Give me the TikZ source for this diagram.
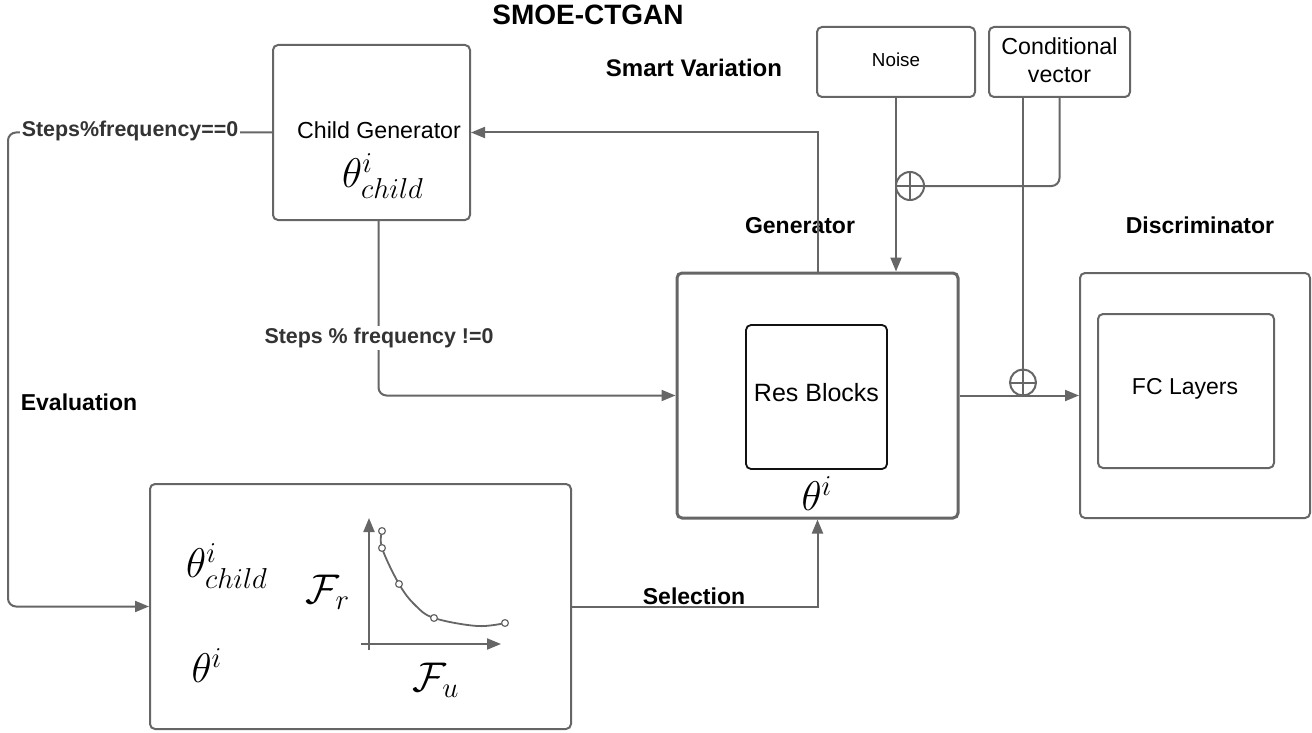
\documentclass[tikz,border=0pt]{standalone}
\usepackage{fontspec}
\setmainfont{Liberation Sans}
\usetikzlibrary{arrows.meta,calc}
\definecolor{ln}{HTML}{666666}
\definecolor{lbl}{HTML}{333333}
\definecolor{blk}{HTML}{111111}
\begin{document}
\begin{tikzpicture}[x=0.5pt,y=-0.5pt,
  box/.style={draw=ln, line width=1pt, rounded corners=2.5pt, inner sep=0pt},
  conn/.style={draw=ln, line width=1pt},
  arr/.style={conn, -{Triangle[length=7pt,width=5.5pt]}},
  boldlbl/.style={font=\fontsize{11.5}{13}\selectfont\bfseries, inner sep=1pt},
  steplbl/.style={font=\fontsize{10.7}{12}\selectfont\bfseries, text=lbl, fill=white, inner sep=1pt},
  txt/.style={font=\fontsize{11.6}{14}\selectfont, inner sep=0pt},
  bigmath/.style={font=\fontsize{22}{24}\selectfont, inner sep=0pt},
  oplus/.style={draw=ln, line width=1pt, circle, inner sep=0pt, fill=white,
    path picture={\draw[ln, line width=1pt] (path picture bounding box.north) -- (path picture bounding box.south)
      (path picture bounding box.west) -- (path picture bounding box.east);}},
  dot/.style={draw=ln, fill=white, circle, line width=0.6pt, inner sep=0pt, minimum size=3.4pt}
]
\useasboundingbox (0,0) rectangle (1312,733);

% title labels
\node[boldlbl, font=\fontsize{14}{16}\selectfont\bfseries] (title) at (588,15) {SMOE-CTGAN};
\node[boldlbl, font=\fontsize{12}{14}\selectfont\bfseries] (smart) at (694,68) {Smart Variation};
\node[boldlbl] (genlbl) at (800,226) {Generator};
\node[boldlbl] (disclbl) at (1200,225) {Discriminator};
\node[boldlbl] (evallbl) at (79,402) {Evaluation};

% boxes
\node[box, minimum width=98.5pt, minimum height=87.5pt] (cg) at (371.5,132.5) {};
\node[txt] (cgtext) at (379,130) {Child Generator};
\node[bigmath] (cgtheta) at (383,176) {$\theta^{i}_{child}$};

\node[box, minimum width=79pt, minimum height=35pt] (noise) at (896,62) {};
\node[txt, font=\fontsize{9.4}{11}\selectfont] (noisetext) at (896,60) {Noise};

\node[box, minimum width=70.5pt, minimum height=35pt] (cv) at (1059.5,62) {};
\node[txt, align=center] (cvtext) at (1059.5,60) {Conditional\\vector};

\node[box, line width=1.5pt, minimum width=140.5pt, minimum height=122.5pt] (gen) at (817.5,395.5) {};
\node[draw=blk, line width=0.9pt, rounded corners=2.5pt, minimum width=70.5pt, minimum height=72pt, inner sep=0pt] (res) at (816.5,397) {};
\node[txt, font=\fontsize{12.5}{14}\selectfont] (restext) at (816.5,393) {Res Blocks};
\node[bigmath] (gentheta) at (817,494) {$\theta^{i}$};

\node[box, minimum width=115pt, minimum height=122.5pt] (disc) at (1195,395.5) {};
\node[box, minimum width=88pt, minimum height=77pt] (fc) at (1186,391) {};
\node[txt, font=\fontsize{11.5}{14}\selectfont] (fctext) at (1185,389) {FC Layers};

\node[box, minimum width=210.5pt, minimum height=122.5pt] (eval) at (360.5,606.5) {};
\node[bigmath] (evtheta1) at (227,566) {$\theta^{i}_{child}$};
\node[bigmath] (evtheta2) at (207,666) {$\theta^{i}$};
\node[bigmath] (fr) at (328,592) {$\mathcal{F}_r$};
\node[bigmath] (fu) at (436,680) {$\mathcal{F}_u$};

% plot
\coordinate (yb) at (369,650);
\coordinate (yt) at (369,518);
\coordinate (xl) at (361,644);
\coordinate (xr) at (501,644);
\draw[arr] (yb) -- (yt);
\draw[arr] (xl) -- (xr);
\draw[ln, line width=0.9pt] plot[smooth, tension=0.6] coordinates {(382,531) (382,548) (399,584) (415,605) (434,618) (477,626) (505,623)};
\foreach \p/\n in {{(382,531)}/p1,{(382,548)}/p2,{(399,584)}/p3,{(434,618)}/p4,{(505,623)}/p5}
  \node[dot] (\n) at \p {};

% connectors
\draw[arr] (gen.north) |- (cg.east);

\coordinate (lp) at (8,132.5);
\draw[arr, rounded corners=4pt] (cg.west) -- (lp) |- (eval.west);
\node[steplbl] (s0) at (130,131) {Steps\%frequency==0};

\coordinate (cgs) at ($(cg.south)+(7,0)$);
\draw[arr, rounded corners=4pt] (cgs) |- (gen.west);
\node[steplbl] (s1) at (379,338) {Steps \% frequency !=0};

\draw[arr] (eval.east) -| (gen.south);
\node[boldlbl] (sel) at (694,596) {Selection};

\draw[arr] (noise.south) -- (noise.south |- gen.north);
\node[oplus, minimum size=14pt] (op1) at (910,186) {};
\draw[conn, rounded corners=4pt] (op1.east) -| (cv.south);

\node[oplus, minimum size=13pt] (op2) at (1023,382.5) {};
\draw[conn] (op2.north |- cv.south) -- (op2.north);
\draw[arr] (gen.east) -- (disc.west);
\end{tikzpicture}
\end{document}
